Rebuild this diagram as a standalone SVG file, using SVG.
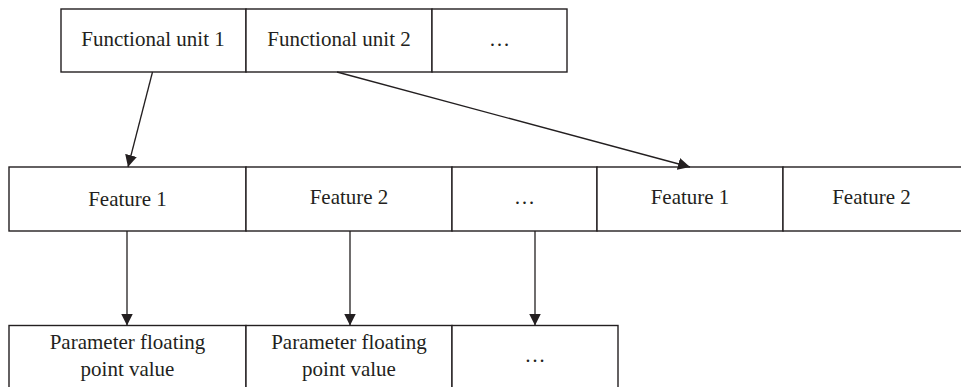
<svg xmlns="http://www.w3.org/2000/svg" width="961" height="387" viewBox="0 0 961 387">
  <style>
    .cell { fill: #ffffff; stroke: #231f20; stroke-width: 1.4; }
    .lbl { font-family: "Liberation Serif", "Times New Roman", serif; font-size: 21px; fill: #231f20; text-anchor: middle; }
    .conn { stroke: #231f20; stroke-width: 1.3; fill: none; marker-end: url(#arrow); }
  </style>
  <defs>
    <marker id="arrow" viewBox="0 0 12 12" refX="12" refY="6" markerWidth="12" markerHeight="12" markerUnits="userSpaceOnUse" orient="auto">
      <path d="M0,0 L12,6 L0,12 Z" fill="#231f20"/>
    </marker>
  </defs>
  <rect width="961" height="387" fill="#ffffff"/>

  <!-- top row: functional units -->
  <g id="unit1">
    <rect class="cell" x="61" y="9" width="185" height="63"/>
    <text class="lbl" x="153" y="45.5">Functional unit 1</text>
  </g>
  <g id="unit2">
    <rect class="cell" x="246" y="9" width="186" height="63"/>
    <text class="lbl" x="339" y="45.5">Functional unit 2</text>
  </g>
  <g id="unitMore">
    <rect class="cell" x="432" y="9" width="135" height="63"/>
    <text class="lbl" x="499.5" y="45.5">…</text>
  </g>

  <!-- middle row: features -->
  <g id="feat1a">
    <rect class="cell" x="9" y="167" width="237" height="64"/>
    <text class="lbl" x="127.5" y="206">Feature 1</text>
  </g>
  <g id="feat2a">
    <rect class="cell" x="246" y="167" width="206" height="64"/>
    <text class="lbl" x="349" y="204">Feature 2</text>
  </g>
  <g id="featMore">
    <rect class="cell" x="452" y="167" width="145" height="64"/>
    <text class="lbl" x="524.5" y="204">…</text>
  </g>
  <g id="feat1b">
    <rect class="cell" x="597" y="167" width="186" height="64"/>
    <text class="lbl" x="690" y="204">Feature 1</text>
  </g>
  <g id="feat2b">
    <rect class="cell" x="783" y="167" width="180" height="64"/>
    <text class="lbl" x="871.5" y="204">Feature 2</text>
  </g>

  <!-- bottom row: parameter values -->
  <g id="param1">
    <rect class="cell" x="9" y="325.5" width="237" height="70"/>
    <text class="lbl" x="127.5" y="349">Parameter floating</text>
    <text class="lbl" x="127.5" y="376">point value</text>
  </g>
  <g id="param2">
    <rect class="cell" x="246" y="325.5" width="206" height="70"/>
    <text class="lbl" x="349" y="349">Parameter floating</text>
    <text class="lbl" x="349" y="376">point value</text>
  </g>
  <g id="paramMore">
    <rect class="cell" x="452" y="325.5" width="166" height="70"/>
    <text class="lbl" x="535" y="362">…</text>
  </g>

  <!-- connectors -->
  <g id="connectors">
    <line class="conn" x1="152.5" y1="72" x2="128" y2="167"/>
    <line class="conn" x1="337" y1="72" x2="690" y2="167"/>
    <line class="conn" x1="127" y1="231" x2="127" y2="325.5"/>
    <line class="conn" x1="350" y1="231" x2="350" y2="325.5"/>
    <line class="conn" x1="535" y1="231" x2="535" y2="325.5"/>
  </g>
</svg>
